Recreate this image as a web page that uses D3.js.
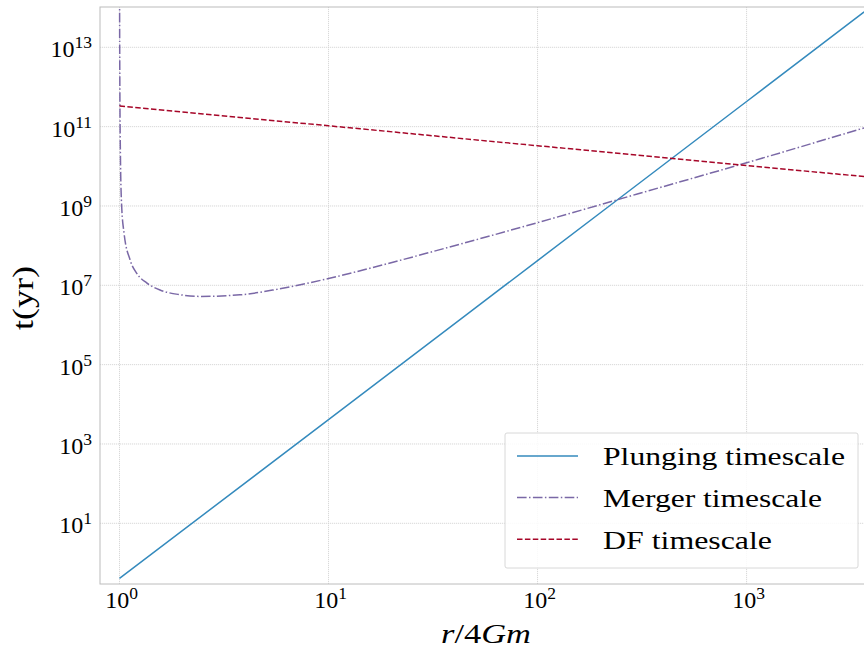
<!DOCTYPE html>
<html>
<head>
<meta charset="utf-8">
<script src="https://cdn.jsdelivr.net/npm/d3@7"></script>
<style>
  body { margin: 0; background: #fff; }
  svg { display: block; font-family: "Liberation Serif", "DejaVu Serif", serif; }
</style>
</head>
<body>
<svg width="864" height="649"></svg>
<script>
// valeurs (r/4Gm, t en années)
const plungeR = [1, 10, 100, 1000, 3650];
const plungeT = [0.41, 4.1e3, 4.2e7, 4.3e11, 7.8e13];

const mergerR = [1.0003, 1.001, 1.003, 1.01, 1.024, 1.051, 1.123, 1.209, 1.349, 1.563, 1.947, 2.43, 3.77, 5.65, 7.87, 10, 15.8, 30, 100, 300, 1000, 3650];
const mergerT = [3e15, 1.6e14, 3.2e12, 2e10, 1e9, 2.1e8, 4.4e7, 2.0e7, 1.15e7, 7.6e6, 5.8e6, 5.25e6, 5.75e6, 7.9e6, 1.12e7, 1.48e7, 2.7e7, 6.6e7, 3.8e8, 2.0e9, 1.23e10, 9.3e10];

const dfR = [1, 10, 100, 1000, 3650];
const dfT = [3.3e11, 1.05e11, 3.3e10, 1.05e10, 5.5e9];

const xTicks = [1, 10, 100, 1000];
const yTicks = [1e1, 1e3, 1e5, 1e7, 1e9, 1e11, 1e13];

const seriesNames = ["Plunging timescale", "Merger timescale", "DF timescale"];
const seriesColors = ["#348ABD", "#7A68A6", "#A60628"];
const seriesDash = [null, "9.6,2.4,1.5,2.4", "5.5,2.4"];

const svg = d3.select("svg");
const pLeft = 100, pRight = 872, pTop = 7, pBottom = 584;

const x = d3.scaleLog()
    .domain([Math.pow(10, -0.0933), Math.pow(10, 3.6)])
    .range([pLeft, pRight]);
const y = d3.scaleLog()
    .domain([Math.pow(10, -0.53), Math.pow(10, 14.016)])
    .range([pBottom, pTop]);

svg.append("clipPath").attr("id", "clip")
  .append("rect")
    .attr("x", pLeft).attr("y", pTop)
    .attr("width", pRight - pLeft).attr("height", pBottom - pTop);

// grille
const grid = svg.append("g").attr("class", "grid");
grid.selectAll(".gx")
    .data(xTicks)
  .join("line")
    .attr("class", "gx")
    .attr("x1", function(d) { return x(d); })
    .attr("x2", function(d) { return x(d); })
    .attr("y1", pTop).attr("y2", pBottom)
    .attr("stroke", "#d4d4d4").attr("stroke-width", 0.9)
    .attr("stroke-dasharray", "1.2,0.8");
grid.selectAll(".gy")
    .data(yTicks)
  .join("line")
    .attr("class", "gy")
    .attr("y1", function(d) { return y(d); })
    .attr("y2", function(d) { return y(d); })
    .attr("x1", pLeft).attr("x2", pRight)
    .attr("stroke", "#d4d4d4").attr("stroke-width", 0.9)
    .attr("stroke-dasharray", "1.2,0.8");

// courbes
const series = [
  { r: plungeR, t: plungeT },
  { r: mergerR, t: mergerT },
  { r: dfR, t: dfT }
];

const line = d3.line()
    .x(function(d) { return x(d[0]); })
    .y(function(d) { return y(d[1]); })
    .curve(d3.curveMonotoneX);

svg.append("g")
    .attr("clip-path", "url(#clip)")
  .selectAll("path")
    .data(series)
  .join("path")
    .attr("d", function(s) { return line(d3.zip(s.r, s.t)); })
    .attr("fill", "none")
    .attr("stroke", function(s, i) { return seriesColors[i]; })
    .attr("stroke-width", 1.5)
    .attr("stroke-dasharray", function(s, i) { return seriesDash[i]; });

// cadre
svg.append("rect")
    .attr("x", pLeft).attr("y", pTop)
    .attr("width", pRight - pLeft).attr("height", pBottom - pTop)
    .attr("fill", "none")
    .attr("stroke", "#bcbcbc").attr("stroke-width", 1);

function powLabel(sel) {
  sel.each(function(d) {
    const t = d3.select(this);
    const e = Math.round(Math.log10(d));
    t.text(null);
    t.append("tspan").text("10");
    t.append("tspan").attr("dy", "-0.52em").attr("font-size", "17.5px").text(e);
  });
}

// axes
const xAxis = svg.append("g")
    .attr("transform", "translate(0," + pBottom + ")")
    .call(d3.axisBottom(x).tickValues(xTicks).tickSize(0).tickPadding(7));
xAxis.select(".domain").remove();
xAxis.selectAll("text")
    .attr("font-size", "24px")
    .attr("font-family", "Liberation Serif")
    .attr("fill", "#000")
    .attr("dx", "1.5")
    .call(powLabel);

const yAxis = svg.append("g")
    .attr("transform", "translate(" + pLeft + ",0)")
    .call(d3.axisLeft(y).tickValues(yTicks).tickSize(0).tickPadding(8));
yAxis.select(".domain").remove();
yAxis.selectAll("text")
    .attr("font-size", "24px")
    .attr("font-family", "Liberation Serif")
    .attr("fill", "#000")
    .attr("dy", "0.4em")
    .call(powLabel);

// titres des axes
svg.append("text")
    .attr("transform", "translate(33,298) rotate(-90)")
    .attr("text-anchor", "middle")
    .attr("font-size", "29px")
    .attr("textLength", 64)
    .attr("lengthAdjust", "spacingAndGlyphs")
    .attr("fill", "#000")
    .text("t(yr)");

const xl = svg.append("text")
    .attr("x", 486).attr("y", 643)
    .attr("text-anchor", "middle")
    .attr("font-size", "28px")
    .attr("textLength", 90)
    .attr("lengthAdjust", "spacingAndGlyphs")
    .attr("fill", "#000");
xl.append("tspan").attr("font-style", "italic").text("r");
xl.append("tspan").text("/4");
xl.append("tspan").attr("font-style", "italic").text("Gm");

// légende
const legend = svg.append("g");
legend.append("rect")
    .attr("x", 505).attr("y", 433)
    .attr("width", 353).attr("height", 135)
    .attr("rx", 2)
    .attr("fill", "#fff").attr("fill-opacity", 0.85)
    .attr("stroke", "#d8d8d8").attr("stroke-width", 1);

const legendWidths = [242, 219, 169];
const items = legend.selectAll(".item")
    .data(seriesNames)
  .join("g")
    .attr("class", "item")
    .attr("transform", function(d, i) { return "translate(0," + (456 + i * 41.6) + ")"; });
items.append("line")
    .attr("x1", 517).attr("x2", 578)
    .attr("stroke", function(d, i) { return seriesColors[i]; })
    .attr("stroke-width", 1.5)
    .attr("stroke-dasharray", function(d, i) { return seriesDash[i]; });
items.append("text")
    .attr("x", 603).attr("dy", "0.36em")
    .attr("font-size", "26px")
    .attr("textLength", function(d, i) { return legendWidths[i]; })
    .attr("lengthAdjust", "spacingAndGlyphs")
    .attr("fill", "#000")
    .text(function(d) { return d; });
</script>
</body>
</html>
